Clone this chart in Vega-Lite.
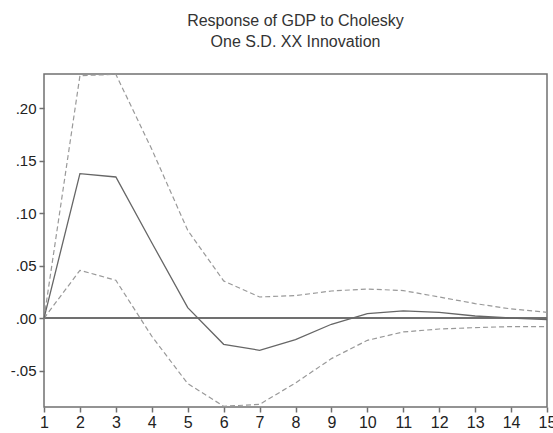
{
  "$schema": "https://vega.github.io/schema/vega-lite/v6.json",
  "width": 503,
  "height": 333,
  "autosize": {"type": "none"},
  "padding": {"left": 44, "top": 74, "right": 6, "bottom": 26},
  "background": "white",
  "title": {
    "text": ["Response of GDP to Cholesky", "One S.D. XX Innovation"],
    "font": "Liberation Sans",
    "fontSize": 16,
    "fontWeight": "normal",
    "color": "#333333",
    "anchor": "middle",
    "offset": 22,
    "lineHeight": 21
  },
  "config": {
    "view": {"stroke": "#707070", "strokeWidth": 1.5},
    "axis": {
      "labelFont": "Liberation Sans",
      "labelFontSize": 15,
      "labelColor": "#222222",
      "domain": false,
      "grid": false,
      "tickColor": "#707070",
      "tickSize": 5,
      "tickWidth": 1.5
    }
  },
  "data": {
    "values": [
      {"step": 1, "response": 0.0, "lower": 0.0, "upper": 0.0},
      {"step": 2, "response": 0.1378, "lower": 0.0457, "upper": 0.2311},
      {"step": 3, "response": 0.1346, "lower": 0.0362, "upper": 0.2324},
      {"step": 4, "response": 0.072, "lower": -0.0171, "upper": 0.161},
      {"step": 5, "response": 0.0102, "lower": -0.0622, "upper": 0.0838},
      {"step": 6, "response": -0.0248, "lower": -0.0838, "upper": 0.0356},
      {"step": 7, "response": -0.0305, "lower": -0.082, "upper": 0.0203},
      {"step": 8, "response": -0.0203, "lower": -0.0616, "upper": 0.0216},
      {"step": 9, "response": -0.0057, "lower": -0.0384, "upper": 0.026},
      {"step": 10, "response": 0.0045, "lower": -0.021, "upper": 0.0279},
      {"step": 11, "response": 0.007, "lower": -0.013, "upper": 0.0264},
      {"step": 12, "response": 0.0057, "lower": -0.0102, "upper": 0.0203},
      {"step": 13, "response": 0.0022, "lower": -0.0089, "upper": 0.014},
      {"step": 14, "response": 0.0002, "lower": -0.0079, "upper": 0.0089},
      {"step": 15, "response": -0.0013, "lower": -0.0079, "upper": 0.0057}
    ]
  },
  "encoding": {
    "x": {
      "field": "step",
      "type": "quantitative",
      "scale": {"domain": [1, 15], "nice": false, "zero": false},
      "axis": {"title": null, "values": [1,2,3,4,5,6,7,8,9,10,11,12,13,14,15], "labelFontSize": 16, "labelPadding": 2, "labelFlush": false}
    }
  },
  "layer": [
    {
      "mark": {"type": "rule", "color": "#707070", "strokeWidth": 1.2},
      "encoding": {"y": {"datum": 0, "type": "quantitative"}, "x": null}
    },
    {
      "mark": {"type": "line", "color": "#999999", "strokeWidth": 1.2, "strokeDash": [5, 3]},
      "encoding": {
        "y": {
          "field": "upper",
          "type": "quantitative",
          "scale": {"domain": [-0.0845, 0.2327], "nice": false, "zero": false},
          "axis": {"title": null, "values": [-0.05, 0, 0.05, 0.1, 0.15, 0.2], "labelExpr": "replace(replace(format(datum.value, '.2f'), '0.', '.'), '\u2212', '-')", "labelPadding": 3}
        }
      }
    },
    {
      "mark": {"type": "line", "color": "#999999", "strokeWidth": 1.2, "strokeDash": [5, 3]},
      "encoding": {"y": {"field": "lower", "type": "quantitative"}}
    },
    {
      "mark": {"type": "line", "color": "#666666", "strokeWidth": 1.3},
      "encoding": {"y": {"field": "response", "type": "quantitative"}}
    }
  ]
}
